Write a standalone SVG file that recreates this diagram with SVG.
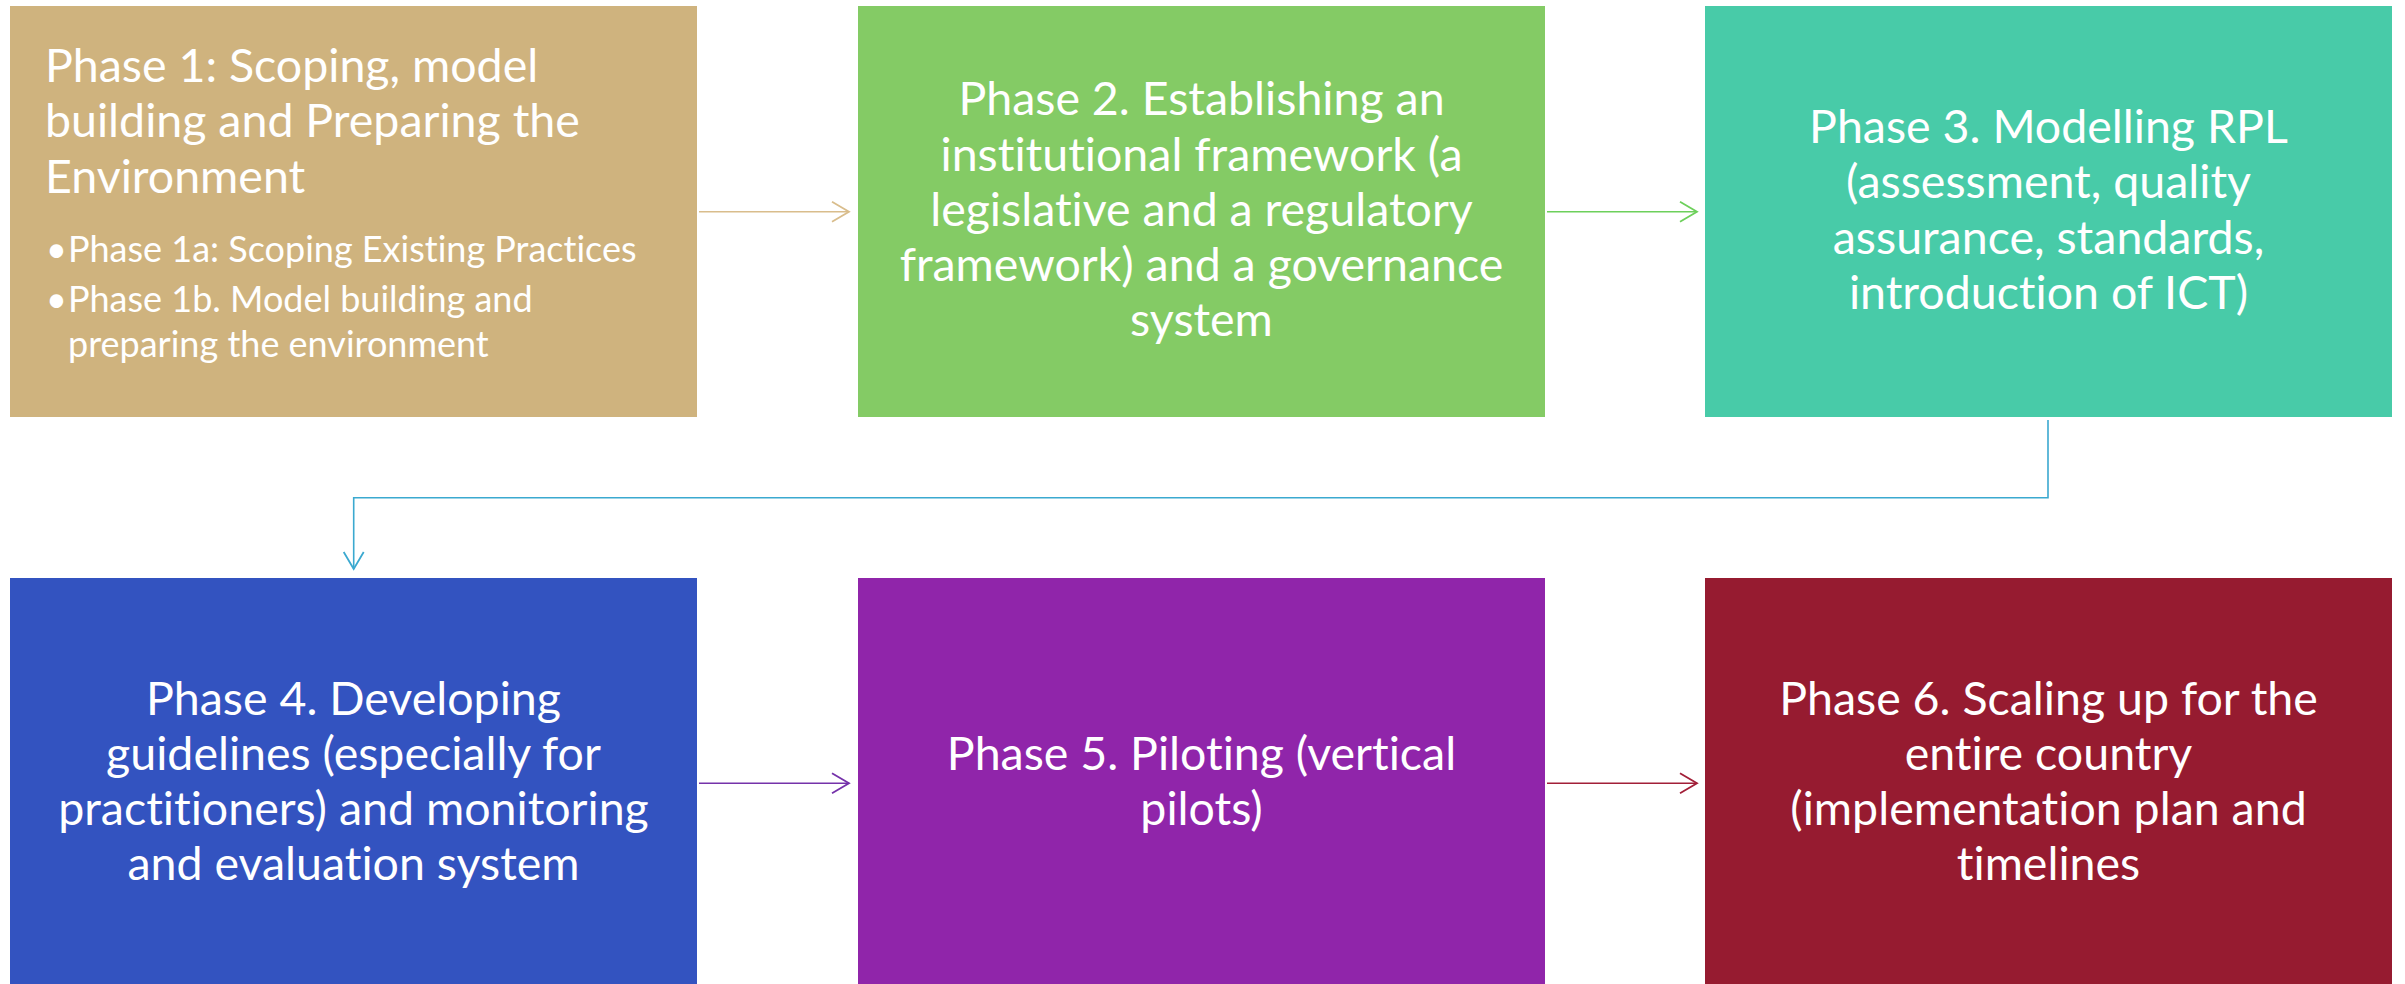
<svg xmlns="http://www.w3.org/2000/svg" width="2405" height="984" viewBox="0 0 2405 984">
<style>
text{font-family:Lato,"Open Sans","Liberation Sans",sans-serif;fill:#ffffff;font-variant-ligatures:none;font-feature-settings:"liga" 0,"dlig" 0}
.t{font-size:46.5px;text-anchor:middle}
.tl{font-size:46.5px}
.tb{font-size:36px}
.c{fill:none;stroke-width:1.6}
</style>
<defs>
<marker id="m1" markerUnits="userSpaceOnUse" markerWidth="20" markerHeight="24" refX="17" refY="10" orient="auto" overflow="visible"><path d="M0,0 L17,10 L0,20" fill="none" stroke="#D9BD8C" stroke-width="1.8"/></marker>
<marker id="m2" markerUnits="userSpaceOnUse" markerWidth="20" markerHeight="24" refX="17" refY="10" orient="auto" overflow="visible"><path d="M0,0 L17,10 L0,20" fill="none" stroke="#6DD05B" stroke-width="1.8"/></marker>
<marker id="m3" markerUnits="userSpaceOnUse" markerWidth="20" markerHeight="24" refX="17" refY="10" orient="auto" overflow="visible"><path d="M0,0 L17,10 L0,20" fill="none" stroke="#3BA9D0" stroke-width="1.8"/></marker>
<marker id="m4" markerUnits="userSpaceOnUse" markerWidth="20" markerHeight="24" refX="17" refY="10" orient="auto" overflow="visible"><path d="M0,0 L17,10 L0,20" fill="none" stroke="#7532AA" stroke-width="1.8"/></marker>
<marker id="m5" markerUnits="userSpaceOnUse" markerWidth="20" markerHeight="24" refX="17" refY="10" orient="auto" overflow="visible"><path d="M0,0 L17,10 L0,20" fill="none" stroke="#A21F38" stroke-width="1.8"/></marker>
</defs>
<rect width="2405" height="984" fill="#ffffff"/>
<g id="connectors">
<path class="c" d="M699,211.7 H849" stroke="#D9BD8C" marker-end="url(#m1)"/>
<path class="c" d="M1547,211.7 H1697" stroke="#6DD05B" marker-end="url(#m2)"/>
<path class="c" d="M2048,420 V497.7 H353.7 V569" stroke="#3BA9D0" marker-end="url(#m3)"/>
<path class="c" d="M699,783.3 H849" stroke="#7532AA" marker-end="url(#m4)"/>
<path class="c" d="M1547,783.3 H1697" stroke="#A21F38" marker-end="url(#m5)"/>
</g>
<g id="phase1">
<rect x="10" y="6" width="687" height="411" fill="#CFB37E"/>
<text class="tl" x="45" y="82">Phase 1: Scoping, model</text>
<text class="tl" x="45" y="137">building and Preparing the</text>
<text class="tl" x="45" y="193">Environment</text>
<text class="tb" x="46" y="262">•</text>
<text class="tb" x="68" y="262">Phase 1a: Scoping Existing Practices</text>
<text class="tb" x="46" y="312">•</text>
<text class="tb" x="68" y="312">Phase 1b. Model building and</text>
<text class="tb" x="68" y="357">preparing the environment</text>
</g>
<g id="phase2">
<rect x="858" y="6" width="687" height="411" fill="#84CB65"/>
<text class="t" x="1201.5" y="115">Phase 2. Establishing an</text>
<text class="t" x="1201.5" y="170.5">institutional framework (a</text>
<text class="t" x="1201.5" y="225.5">legislative and a regulatory</text>
<text class="t" x="1201.5" y="280.5">framework) and a governance</text>
<text class="t" x="1201.5" y="336">system</text>
</g>
<g id="phase3">
<rect x="1705" y="6" width="687" height="411" fill="#48CBA8"/>
<text class="t" x="2048.5" y="143">Phase 3. Modelling RPL</text>
<text class="t" x="2048.5" y="198.3">(assessment, quality</text>
<text class="t" x="2048.5" y="253.6">assurance, standards,</text>
<text class="t" x="2048.5" y="308.5">introduction of ICT)</text>
</g>
<g id="phase4">
<rect x="10" y="578" width="687" height="411" fill="#3353C0"/>
<text class="t" x="353.5" y="714.5">Phase 4. Developing</text>
<text class="t" x="353.5" y="769.8">guidelines (especially for</text>
<text class="t" x="353.5" y="825">practitioners) and monitoring</text>
<text class="t" x="353.5" y="880">and evaluation system</text>
</g>
<g id="phase5">
<rect x="858" y="578" width="687" height="411" fill="#9025AA"/>
<text class="t" x="1201.5" y="770">Phase 5. Piloting (vertical</text>
<text class="t" x="1201.5" y="825">pilots)</text>
</g>
<g id="phase6">
<rect x="1705" y="578" width="687" height="411" fill="#961B30"/>
<text class="t" x="2048.5" y="714.5">Phase 6. Scaling up for the</text>
<text class="t" x="2048.5" y="769.8">entire country</text>
<text class="t" x="2048.5" y="825">(implementation plan and</text>
<text class="t" x="2048.5" y="880">timelines</text>
</g>
</svg>
